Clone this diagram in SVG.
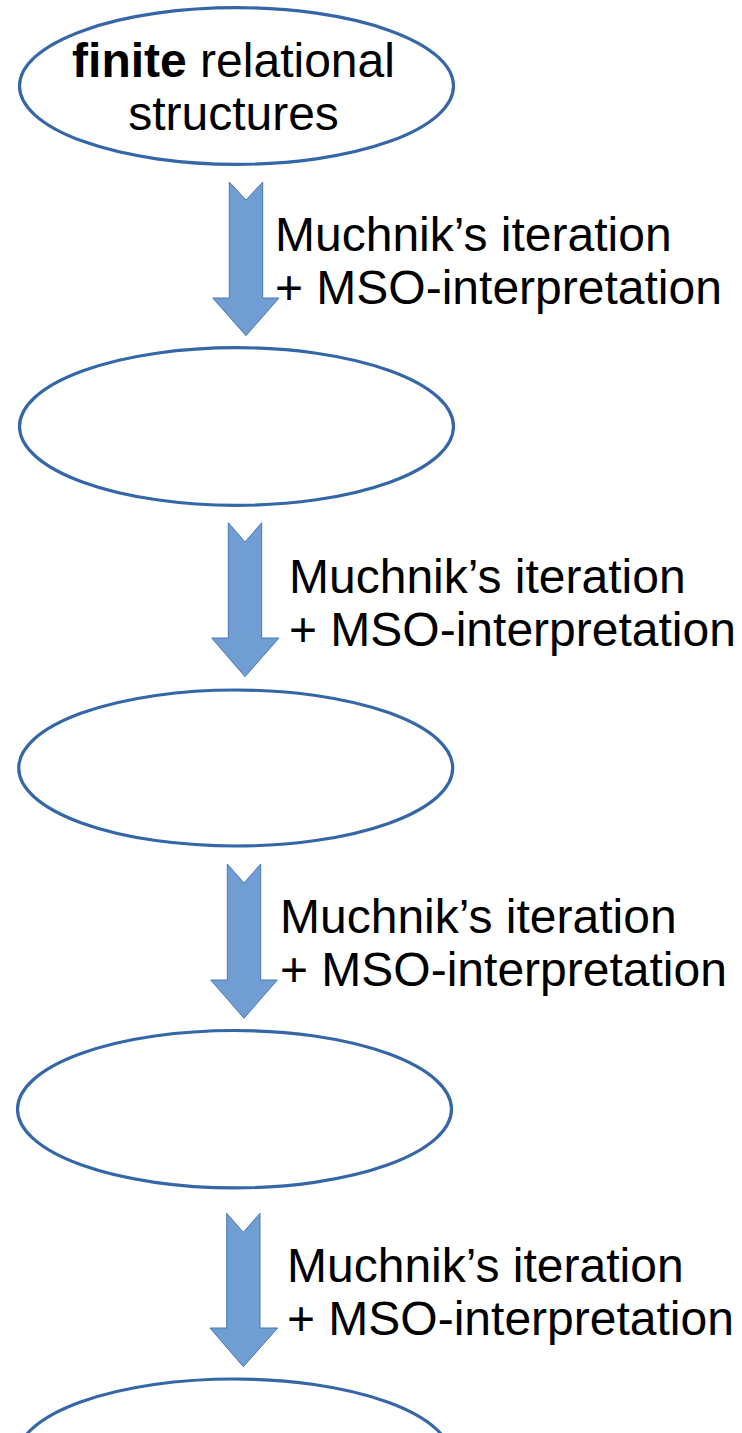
<svg xmlns="http://www.w3.org/2000/svg" width="742" height="1433" viewBox="0 0 742 1433">
  <style>
    .node { fill: #ffffff; stroke: #3566a8; stroke-width: 3.2; }
    .arrow { fill: #719ed2; stroke: #4a78b3; stroke-width: 1; stroke-linejoin: miter; }
    .txt { font-family: "Liberation Sans", Arial, sans-serif; font-size: 48px; fill: #000000; }
    .bold { font-weight: bold; }
  </style>
  <rect width="742" height="1433" fill="#ffffff"/>

  <g id="node1">
    <ellipse class="node" cx="236.5" cy="86" rx="217" ry="78.3"/>
    <text class="txt" text-anchor="middle" x="233.5" y="77"><tspan class="bold">finite</tspan> relational</text>
    <text class="txt" text-anchor="middle" x="233.5" y="130">structures</text>
  </g>
  <g id="node2">
    <ellipse class="node" cx="236.5" cy="426.5" rx="217" ry="78.8"/>
  </g>
  <g id="node3">
    <ellipse class="node" cx="235.7" cy="768" rx="217" ry="78"/>
  </g>
  <g id="node4">
    <ellipse class="node" cx="234.5" cy="1109.2" rx="217" ry="78.7"/>
  </g>
  <g id="node5">
    <ellipse class="node" cx="234" cy="1457.5" rx="217" ry="78.5"/>
  </g>

  <g id="connectors">
    <!-- block arrows: notched tail, shaft, head -->
    <path class="arrow" d="M229.3,182 L246,200 L262.7,182 L262.7,298 L279,298 L246,335.7 L212.7,298 L229.3,298 Z"/>
    <path class="arrow" d="M228.3,522.7 L245,542 L261.7,522.7 L261.7,638 L279,638 L245,676.7 L211.7,638 L228.3,638 Z"/>
    <path class="arrow" d="M227.3,864 L244,883 L260.7,864 L260.7,980 L277.3,980 L244,1018.3 L210.7,980 L227.3,980 Z"/>
    <path class="arrow" d="M226.7,1213.3 L243.3,1232.3 L260,1213.3 L260,1328 L277.7,1328 L243.3,1366.7 L210,1328 L226.7,1328 Z"/>

    <g id="label1">
      <text class="txt" x="275" y="251">Muchnik’s iteration</text>
      <text class="txt" x="275" y="304">+ MSO-interpretation</text>
    </g>
    <g id="label2">
      <text class="txt" x="289" y="593">Muchnik’s iteration</text>
      <text class="txt" x="289" y="646">+ MSO-interpretation</text>
    </g>
    <g id="label3">
      <text class="txt" x="280" y="933">Muchnik’s iteration</text>
      <text class="txt" x="280" y="986">+ MSO-interpretation</text>
    </g>
    <g id="label4">
      <text class="txt" x="287" y="1282">Muchnik’s iteration</text>
      <text class="txt" x="287" y="1335">+ MSO-interpretation</text>
    </g>
  </g>
</svg>
